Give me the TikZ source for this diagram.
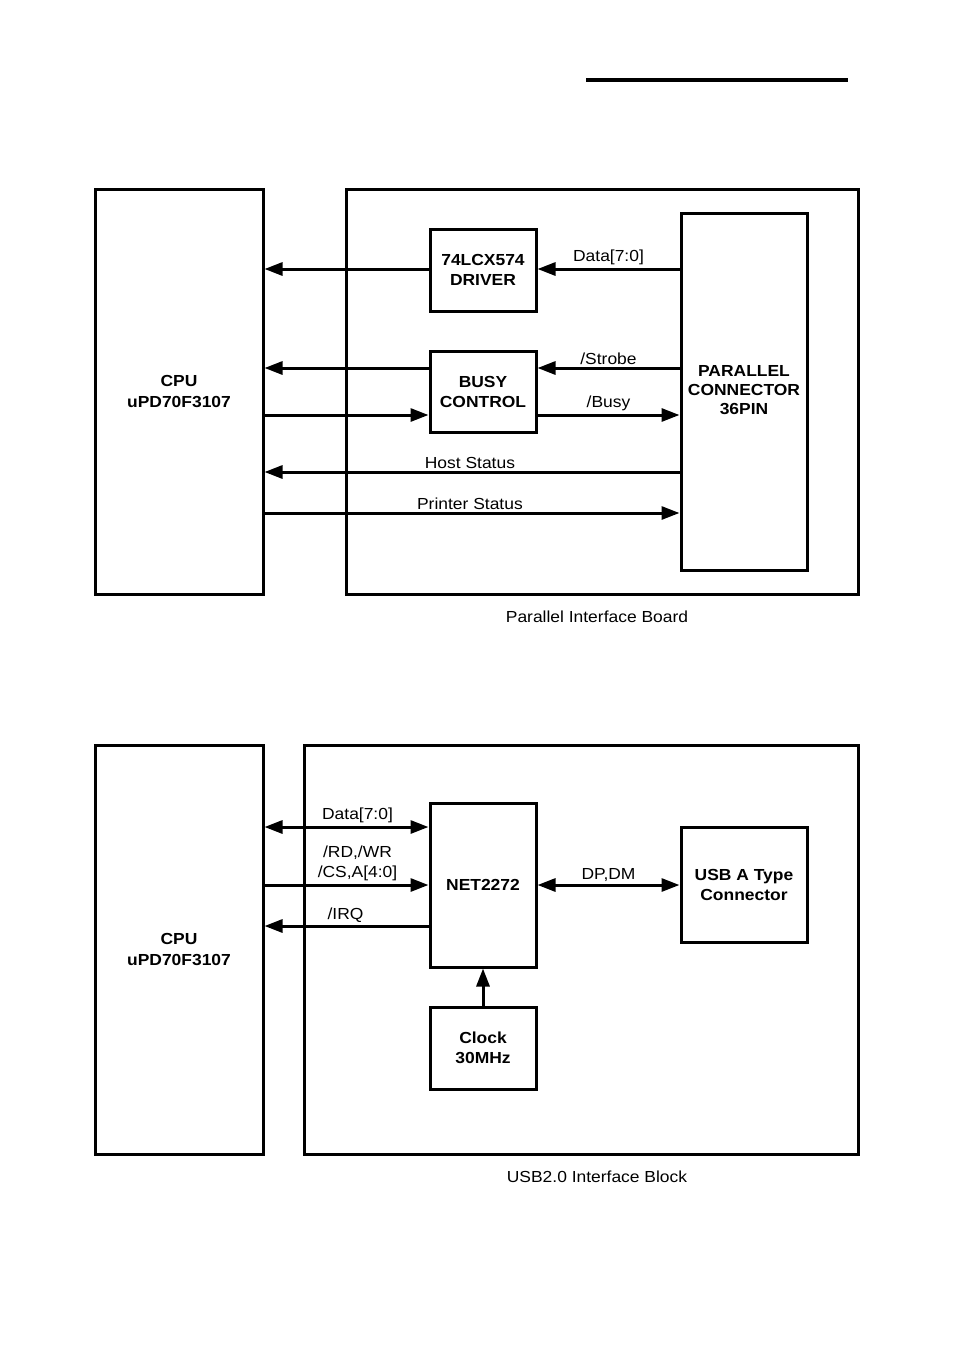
\documentclass[tikz,border=0pt]{standalone}
\usepackage{fontspec}
\setmainfont[FakeStretch=1.09]{Liberation Sans}
\usetikzlibrary{arrows.meta}
\begin{document}
\begin{tikzpicture}[x=1pt,y=-1pt,
  box/.style={draw,line width=3pt,inner sep=0pt},
  conn/.style={line width=3pt,-{Triangle[length=18pt,width=13pt]}},
  bconn/.style={line width=3pt,{Triangle[length=18pt,width=13pt]}-{Triangle[length=18pt,width=13pt]}},
  btxt/.style={font=\fontsize{16}{20}\selectfont\bfseries,align=center},
  ltxt/.style={font=\fontsize{16}{20}\selectfont,align=center}]
\useasboundingbox (0,0) rectangle (954,1350);
\fill[white] (0,0) rectangle (954,1350);
% top rule
\coordinate (r1) at (586,80);
\coordinate (r2) at (848,80);
\draw[line width=3.5pt] (r1) -- (r2);

% ===== Parallel interface =====
\node[box,minimum width=168pt,minimum height=405pt] (cpu1) at (179,391.5) {};
\node[btxt,font=\fontsize{16}{21}\selectfont\bfseries] at (cpu1) {CPU\\uPD70F3107};
\node[box,minimum width=512pt,minimum height=405pt] (board) at (602,391.5) {};
\node[box,minimum width=106pt,minimum height=82pt,btxt] (drv) at (483,270) {74LCX574\\DRIVER};
\node[box,minimum width=106pt,minimum height=81pt,btxt] (busy) at (483,391.5) {BUSY\\CONTROL};
\node[box,minimum width=126pt,minimum height=357pt] (pc) at (744,391.5) {};
\node[btxt,font=\fontsize{16}{19}\selectfont\bfseries] at (744,390) {PARALLEL\\CONNECTOR\\36PIN};
\node[ltxt] (cap1) at (597,617) {Parallel Interface Board};

\draw[conn] (pc.west |- 0,269) -- node[ltxt,above=-1pt] {Data[7:0]} (drv.east |- 0,269);
\draw[conn] (drv.west |- 0,269) -- (cpu1.east |- 0,269);
\draw[conn] (pc.west |- 0,368) -- node[ltxt,above=-1pt] {/Strobe} (busy.east |- 0,368);
\draw[conn] (busy.west |- 0,368) -- (cpu1.east |- 0,368);
\draw[conn] (cpu1.east |- 0,415) -- (busy.west |- 0,415);
\draw[conn] (busy.east |- 0,415) -- node[ltxt,above=-1pt] {/Busy} (pc.west |- 0,415);
\draw[conn] (pc.west |- 0,472) -- node[ltxt,above=-1pt,pos=0.505] {Host Status} (cpu1.east |- 0,472);
\draw[conn] (cpu1.east |- 0,513) -- node[ltxt,above=-1pt,pos=0.495] {Printer Status} (pc.west |- 0,513);

% ===== USB interface =====
\node[box,minimum width=168pt,minimum height=409pt] (cpu2) at (179,949.5) {};
\node[btxt,font=\fontsize{16}{21}\selectfont\bfseries] at (179,949) {CPU\\uPD70F3107};
\node[box,minimum width=554pt,minimum height=409pt] (blk) at (581,949.5) {};
\node[box,minimum width=106pt,minimum height=164pt,btxt] (net) at (483,885) {NET2272};
\node[box,minimum width=126pt,minimum height=115pt,btxt] (usb) at (744,884.5) {USB A Type\\Connector};
\node[box,minimum width=106pt,minimum height=82pt,btxt] (clk) at (483,1048) {Clock\\30MHz};
\node[ltxt] (cap2) at (597,1177) {USB2.0 Interface Block};

\draw[bconn] (cpu2.east |- 0,827) -- node[ltxt,above=-1pt,xshift=11pt] {Data[7:0]} (net.west |- 0,827);
\draw[conn] (cpu2.east |- 0,885) -- node[ltxt,above=-1pt,xshift=11pt] {/RD,/WR\\/CS,A[4:0]} (net.west |- 0,885);
\draw[conn] (net.west |- 0,926) -- node[ltxt,above=-1pt,xshift=-1pt] {/IRQ} (cpu2.east |- 0,926);
\draw[bconn] (net.east) -- node[ltxt,above=-1pt] {DP,DM} (usb.west |- net.east);
\draw[conn] (clk.north) -- (net.south);
\end{tikzpicture}
\end{document}
